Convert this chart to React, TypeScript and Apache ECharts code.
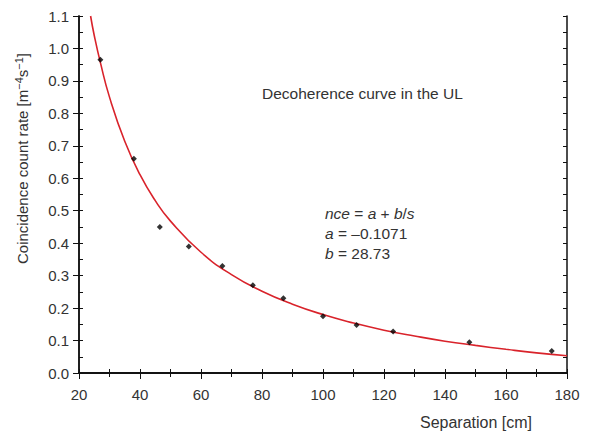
import React, { useEffect, useRef } from "react";
import * as echarts from "echarts";

const separation = [27, 38, 46.5, 56, 67, 77, 87, 100, 111, 123, 148, 175];
const countRate = [0.965, 0.66, 0.45, 0.39, 0.33, 0.27, 0.23, 0.175, 0.148, 0.128, 0.095, 0.068];

const fitS = [23.8, 25, 27, 30, 35, 40, 45, 50, 60, 70, 80, 90, 100, 110, 120, 130, 140, 150, 160, 170, 180];
const fitRate = [1.1, 1.04, 0.957, 0.85, 0.714, 0.611, 0.531, 0.468, 0.372, 0.303, 0.252, 0.212, 0.18, 0.154, 0.132, 0.114, 0.098, 0.085, 0.073, 0.062, 0.053];

const FONT = "'Liberation Sans', Arial, sans-serif";
const LABEL = "#333";
const FS = 15;

export default function App() {
  const ref = useRef<HTMLDivElement>(null);
  useEffect(() => {
    if (!ref.current) return;
    const chart = echarts.init(ref.current, undefined, { renderer: "svg" });
    const axisLine = { show: true, lineStyle: { color: "#111", width: 1.5 } };
    const common = { min: 20, max: 180, interval: 20 };
    const yCommon = { min: 0, max: 1.1, interval: 0.1 };
    chart.setOption({
      animation: false,
      backgroundColor: "#fff",
      grid: { left: 79, right: 24, top: 16, bottom: 61, containLabel: false },
      xAxis: [
        {
          type: "value", position: "bottom", ...common,
          axisLine, splitLine: { show: false },
          axisTick: { show: true, inside: false, length: 6, lineStyle: { color: "#111" } },
          axisLabel: { color: LABEL, fontFamily: FONT, fontSize: FS, margin: 14 },
          name: "Separation [cm]", nameLocation: "middle", nameGap: 41,
          nameTextStyle: { color: LABEL, fontFamily: FONT, fontSize: 16, padding: [0, 0, 0, 306] },
        },
        {
          type: "value", position: "bottom", min: 20, max: 180, interval: 10,
          axisLine, splitLine: { show: false }, axisLabel: { show: false },
          axisTick: { show: true, inside: true, length: 4, lineStyle: { color: "#111" } },
        },
        {
          type: "value", position: "top", min: 20, max: 180, interval: 10,
          axisLine, splitLine: { show: false }, axisLabel: { show: false },
          axisTick: { show: true, inside: true, length: 4, lineStyle: { color: "#111" } },
        },
      ],
      yAxis: [
        {
          type: "value", position: "left", ...yCommon,
          axisLine, splitLine: { show: false },
          axisTick: { show: true, inside: false, length: 6, lineStyle: { color: "#111" } },
          axisLabel: { color: LABEL, fontFamily: FONT, fontSize: FS, margin: 10, formatter: (v: number) => v.toFixed(1) },
          name: "Coincidence count rate [m{sup|\u22124}s{sup|\u22121}]", nameLocation: "middle", nameGap: 48,
          nameTextStyle: {
            color: LABEL, fontFamily: FONT, fontSize: FS, lineHeight: 18, padding: [0, 0, 0, 72],
            rich: { sup: { fontSize: 11, fontFamily: FONT, color: LABEL, verticalAlign: "top", lineHeight: 12 } },
          },
        },
        {
          type: "value", position: "left", min: 0, max: 1.1, interval: 0.05,
          axisLine, splitLine: { show: false }, axisLabel: { show: false },
          axisTick: { show: true, inside: true, length: 4, lineStyle: { color: "#111" } },
        },
        {
          type: "value", position: "right", min: 0, max: 1.1, interval: 0.05,
          axisLine, splitLine: { show: false }, axisLabel: { show: false },
          axisTick: { show: true, inside: true, length: 4, lineStyle: { color: "#111" } },
        },
      ],
      graphic: [
        {
          type: "text", left: 262, top: 85,
          style: { text: "Decoherence curve in the UL", fill: LABEL, font: `15.5px ${FONT}` },
        },
        {
          type: "text", left: 325, top: 203,
          style: {
            text: "{i|nce} = {i|a} + {i|b}/{i|s}\n{i|a} = \u20130.1071\n{i|b} = 28.73",
            fill: LABEL, font: `15.5px ${FONT}`, lineHeight: 20,
            rich: { i: { fontStyle: "italic", fontFamily: FONT, fontSize: 15.5, fill: LABEL, lineHeight: 20 } },
          },
        },
      ],
      series: [
        {
          type: "line", xAxisIndex: 0, yAxisIndex: 0,
          data: fitS.map((s, i) => [s, fitRate[i]]),
          smooth: true, showSymbol: false, symbol: "none",
          lineStyle: { color: "#d9232b", width: 1.6 }, z: 2,
        },
        {
          type: "scatter", xAxisIndex: 0, yAxisIndex: 0,
          data: separation.map((s, i) => [s, countRate[i]]),
          symbol: "diamond", symbolSize: 6,
          itemStyle: { color: "#000" }, z: 3,
        },
      ],
    });
    return () => chart.dispose();
  }, []);
  return <div ref={ref} style={{ position: "absolute", left: 0, top: 0, width: 591, height: 435 }} />;
}
